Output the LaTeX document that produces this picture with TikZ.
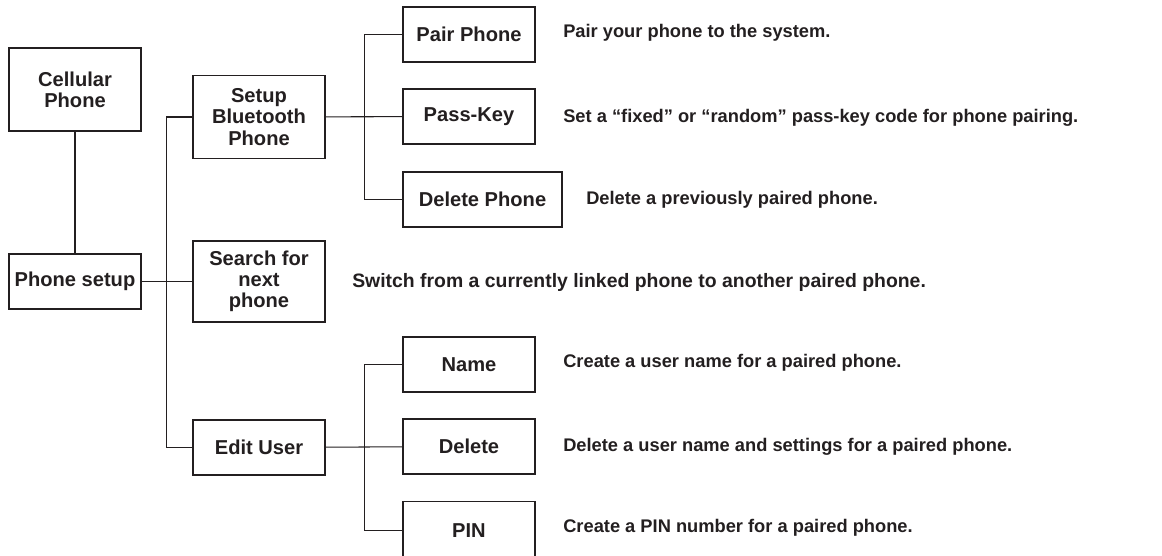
\documentclass[tikz,border=0pt]{standalone}
\usepackage{fontspec}
\setmainfont{Liberation Sans}
\usepackage{xcolor}
\definecolor{ink}{HTML}{231F20}

\tikzset{
  menubox/.style={draw=ink,line width=0.9pt,text=ink,minimum width=3.3cm,
    minimum height=1.375cm,align=center,inner sep=0pt,
    font=\fontsize{14.3}{15}\selectfont\bfseries},
  tallbox/.style={menubox,minimum height=2.07cm},
  note/.style={anchor=west,text=ink,inner sep=0pt,
    font=\fontsize{13}{15}\selectfont\bfseries},
  link/.style={draw=ink,line width=0.75pt}
}

\begin{document}
\begin{tikzpicture}[x=0.025cm,y=-0.025cm]
\useasboundingbox (0,0) rectangle (1162,556);
% main column
\node[tallbox] (cell) at (75,89.5) {Cellular\\Phone};
\node[menubox] (setup) at (75,281.5) {Phone setup};
\node[tallbox] (bt) at (259,117) {Setup\\Bluetooth\\Phone};
\node[tallbox,minimum height=2.02cm] (search) at (259,281.5) {Search for\\next\\phone};
\node[menubox] (edit) at (259,447.5) {Edit User};
% sub menus
\node[menubox] (pair) at (469,34.5) {Pair Phone};
\node[menubox] (pass) at (469,116.5) {Pass-Key};
\node[menubox,minimum width=3.975cm] (delph) at (482.5,199.5) {Delete Phone};
\node[menubox] (name) at (469,364.5) {Name};
\node[menubox] (del) at (469,446.5) {Delete};
\node[menubox,minimum height=1.45cm] (pin) at (469,530.5) {PIN};
% notes
\node[note] (npair) at (563,33) {Pair your phone to the system.};
\node[note] (npass) at (563,118) {Set a ``fixed'' or ``random'' pass-key code for phone pairing.};
\node[note] (ndelph) at (586,200) {Delete a previously paired phone.};
\node[note,font=\fontsize{13.8}{15}\selectfont\bfseries] (nsearch) at (352,282) {Switch from a currently linked phone to another paired phone.};
\node[note] (nname) at (563,363) {Create a user name for a paired phone.};
\node[note] (ndel) at (563,447) {Delete a user name and settings for a paired phone.};
\node[note] (npin) at (563,528) {Create a PIN number for a paired phone.};
% connectors
\draw[link] (cell) -- (setup);
\draw[link] (setup) -- (search);
\draw[link] (bt.west) -- ++(-26,0) |- (edit.west);
\draw[link] (bt) -- (pass);
\draw[link] (pair.west) -- ++(-38,0) |- (delph.west);
\draw[link] (edit) -- (del);
\draw[link] (name.west) -- ++(-38,0) |- (pin.west);
\end{tikzpicture}
\end{document}
